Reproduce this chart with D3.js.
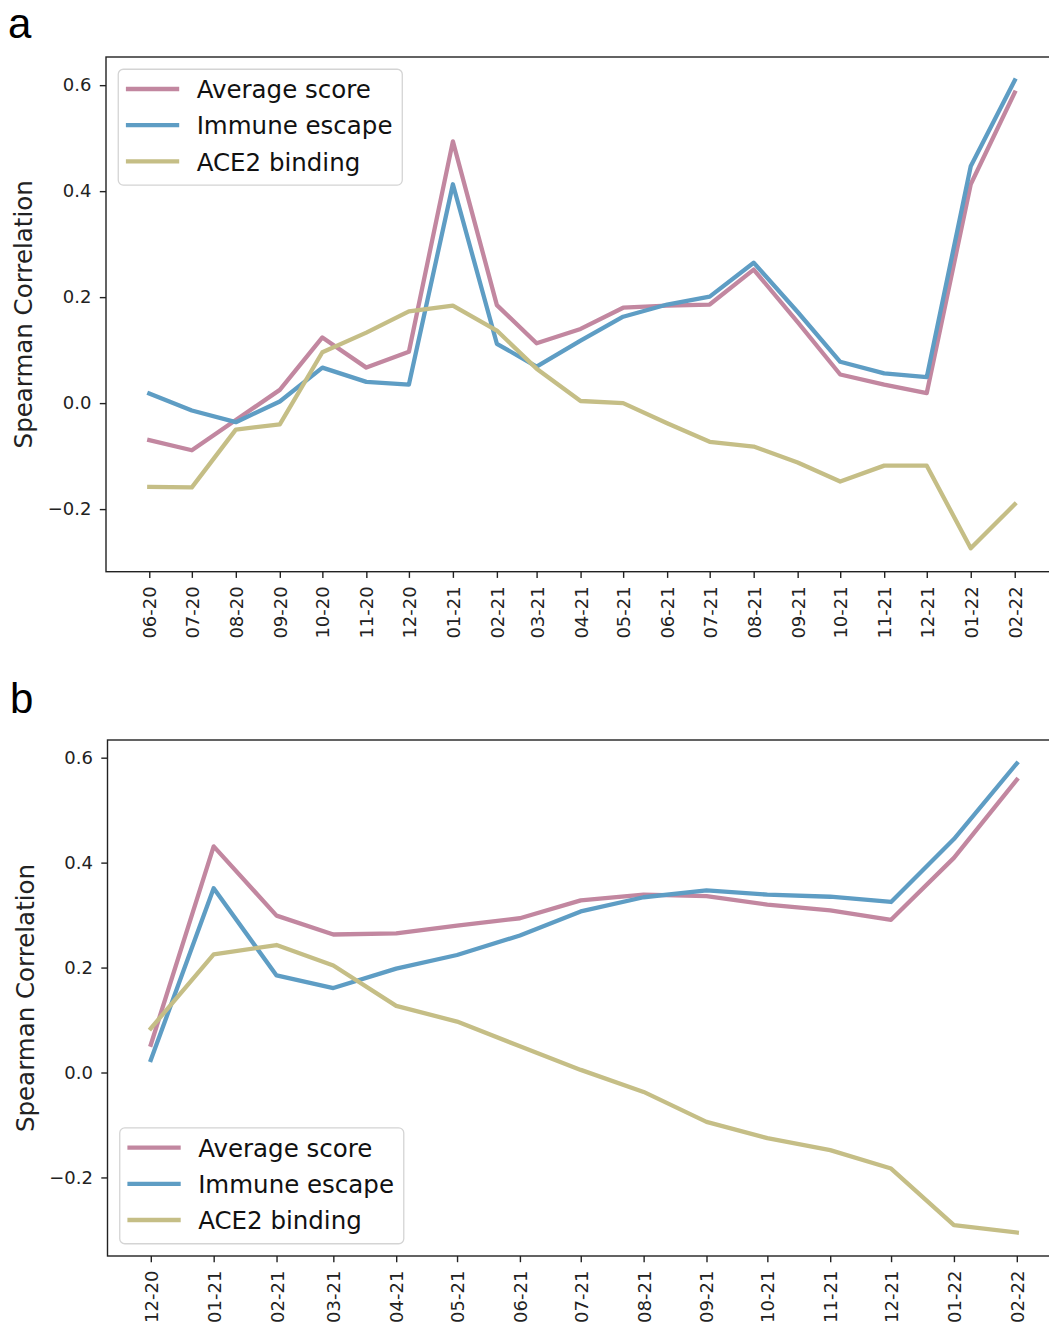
<!DOCTYPE html>
<html>
<head>
<meta charset="utf-8">
<script src="https://cdn.jsdelivr.net/npm/d3@7"></script>
<style>
  body { margin: 0; background: #fff; }
  svg { display: block; }
  text { font-family: "DejaVu Sans", sans-serif; }
</style>
</head>
<body>
<svg id="fig" width="1049" height="1329"></svg>
<script>
// Monthly Spearman correlation between variant scores and growth
// Panel a: June 2020 – February 2022
const monthsA = ["2020-06","2020-07","2020-08","2020-09","2020-10","2020-11","2020-12",
  "2021-01","2021-02","2021-03","2021-04","2021-05","2021-06","2021-07","2021-08",
  "2021-09","2021-10","2021-11","2021-12","2022-01","2022-02"];
const averageA = [-0.070, -0.089, -0.032, 0.025, 0.124, 0.067, 0.097, 0.494, 0.185, 0.113,
  0.140, 0.180, 0.184, 0.186, 0.252, 0.153, 0.054, 0.035, 0.019, 0.413, 0.586];
const immuneA = [0.018, -0.014, -0.036, 0.003, 0.067, 0.040, 0.035, 0.413, 0.112, 0.069,
  0.118, 0.163, 0.186, 0.201, 0.265, 0.172, 0.078, 0.056, 0.049, 0.447, 0.609];
const ace2A = [-0.158, -0.159, -0.050, -0.040, 0.096, 0.133, 0.173, 0.184, 0.137, 0.065,
  0.004, 0.000, -0.038, -0.073, -0.082, -0.112, -0.148, -0.118, -0.118, -0.274, -0.191];

// Panel b: December 2020 – February 2022
const monthsB = ["2020-12","2021-01","2021-02","2021-03","2021-04","2021-05","2021-06",
  "2021-07","2021-08","2021-09","2021-10","2021-11","2021-12","2022-01","2022-02"];
const averageB = [0.053, 0.431, 0.299, 0.263, 0.265, 0.280, 0.294, 0.328, 0.339, 0.336,
  0.320, 0.309, 0.291, 0.409, 0.558];
const immuneB = [0.024, 0.351, 0.185, 0.161, 0.198, 0.224, 0.261, 0.307, 0.334, 0.347,
  0.339, 0.335, 0.325, 0.445, 0.589];
const ace2B = [0.084, 0.225, 0.243, 0.204, 0.127, 0.097, 0.050, 0.005, -0.037, -0.094,
  -0.125, -0.148, -0.183, -0.291, -0.305];

const seriesNames = ["Average score", "Immune escape", "ACE2 binding"];
const seriesColors = ["#c287a0", "#5e9dc4", "#c5be86"];
const yTickValues = [-0.2, 0.0, 0.2, 0.4, 0.6];
const yLabel = "Spearman Correlation";

const parseMonth = d3.utcParse("%Y-%m");
const fmtMonth = d3.utcFormat("%m-%y");
const fmtY = d3.format(".1f");

const svg = d3.select("#fig");
const INK = "#222";
const TICK_FS = "18px";

function padded(extent, frac) {
  const span = extent[1] - extent[0];
  return [extent[0] - span * frac, extent[1] + span * frac];
}

function drawPanel(cfg) {
  const { left, top, width, height, months, series, letter, letterPos, legendAt } = cfg;
  const dates = months.map(parseMonth);
  const g = svg.append("g");

  const tExt = d3.extent(dates).map(d => +d);
  const x = d3.scaleUtc()
    .domain(padded(tExt, 0.05).map(v => new Date(v)))
    .range([left, left + width]);

  const allVals = series.flat();
  const y = d3.scaleLinear()
    .domain(padded(d3.extent(allVals), 0.05))
    .range([top + height, top]);

  // lines
  const line = d3.line()
    .x((d, i) => x(dates[i]))
    .y(d => y(d));
  series.forEach((vals, k) => {
    g.append("path")
      .datum(vals)
      .attr("d", line)
      .attr("fill", "none")
      .attr("stroke", seriesColors[k])
      .attr("stroke-width", 4.3)
      .attr("stroke-linecap", "square")
      .attr("stroke-linejoin", "round");
  });

  // y axis
  const yAxis = g.append("g")
    .attr("transform", `translate(${left},0)`)
    .call(d3.axisLeft(y).tickValues(yTickValues).tickFormat(fmtY)
      .tickSize(6.2).tickPadding(8.4));
  yAxis.select(".domain").remove();
  yAxis.selectAll("line").attr("stroke", INK).attr("stroke-width", 1.4);
  yAxis.selectAll("text")
    .attr("fill", INK)
    .style("font-size", TICK_FS)
    .style("font-family", "'DejaVu Sans', sans-serif");

  // x axis
  const xAxis = g.append("g")
    .attr("transform", `translate(0,${top + height})`)
    .call(d3.axisBottom(x).tickValues(dates).tickFormat(fmtMonth)
      .tickSize(6.2).tickPadding(0));
  xAxis.select(".domain").remove();
  xAxis.selectAll("line").attr("stroke", INK).attr("stroke-width", 1.4);
  xAxis.selectAll("text")
    .attr("fill", INK)
    .attr("transform", "rotate(-90)")
    .attr("text-anchor", "end")
    .attr("x", -14.6)
    .attr("y", 0)
    .attr("dy", "0.36em")
    .style("font-size", TICK_FS)
    .style("font-family", "'DejaVu Sans', sans-serif");

  // frame
  g.append("rect")
    .attr("x", left).attr("y", top)
    .attr("width", width).attr("height", height)
    .attr("fill", "none")
    .attr("stroke", INK)
    .attr("stroke-width", 1.4);

  // y label
  g.append("text")
    .attr("transform", `translate(${left - 74},${top + height / 2}) rotate(-90)`)
    .attr("text-anchor", "middle")
    .attr("fill", INK)
    .style("font-size", "24.5px")
    .text(yLabel);

  // panel letter
  svg.append("text")
    .attr("x", letterPos[0]).attr("y", letterPos[1])
    .attr("fill", "#000")
    .style("font-family", "'Liberation Sans', Arial, sans-serif")
    .style("font-size", "42px")
    .text(letter);

  // legend
  const fs = 24.5;
  const pad = 0.4 * fs, handleLen = 2.0 * fs, handleGap = 0.8 * fs;
  const rowH = 23.9, rowGap = 0.5 * fs;
  const boxH = 2 * pad + 3 * rowH + 2 * rowGap;
  const lg = g.append("g");
  const boxX = left + 0.5 * fs;
  const boxY = legendAt === "top" ? top + 0.5 * fs : top + height - 0.5 * fs - boxH;
  const frame = lg.append("rect")
    .attr("x", boxX).attr("y", boxY)
    .attr("height", boxH)
    .attr("rx", 5).attr("ry", 5)
    .attr("fill", "#fff").attr("fill-opacity", 0.8)
    .attr("stroke", "#d4d4d4").attr("stroke-width", 1.3);
  let maxW = 0;
  seriesNames.forEach((name, k) => {
    const cy = boxY + pad + rowH / 2 - 2 + k * (rowH + rowGap);
    const hx = boxX + pad;
    lg.append("line")
      .attr("x1", hx).attr("x2", hx + handleLen)
      .attr("y1", cy).attr("y2", cy)
      .attr("stroke", seriesColors[k])
      .attr("stroke-width", 4.3)
      .attr("stroke-linecap", "square");
    const t = lg.append("text")
      .attr("x", hx + handleLen + handleGap)
      .attr("y", cy + 9.3)
      .attr("fill", "#111")
      .style("font-size", fs + "px")
      .text(name);
    maxW = Math.max(maxW, t.node().getComputedTextLength());
  });
  frame.attr("width", pad + handleLen + handleGap + maxW + pad);
}

drawPanel({
  left: 106, top: 57, width: 952, height: 514.7,
  months: monthsA,
  series: [averageA, immuneA, ace2A],
  letter: "a", letterPos: [8, 38],
  legendAt: "top"
});

drawPanel({
  left: 107.5, top: 740, width: 952.6, height: 516,
  months: monthsB,
  series: [averageB, immuneB, ace2B],
  letter: "b", letterPos: [10, 713],
  legendAt: "bottom"
});
</script>
</body>
</html>
